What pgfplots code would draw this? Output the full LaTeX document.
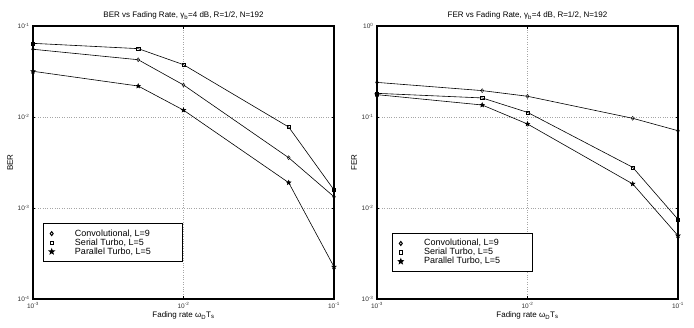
\documentclass[border=0pt]{standalone}
\usepackage{fontspec}
\setmainfont{Liberation Sans}
\usepackage{pgfplots}
\pgfplotsset{compat=1.18}
\pgfdeclareplotmark{fstar}{%
  \pgfpathmoveto{\pgfpointpolar{90}{\pgfplotmarksize}}%
  \pgfpathlineto{\pgfpointpolar{126}{0.42\pgfplotmarksize}}%
  \pgfpathlineto{\pgfpointpolar{162}{\pgfplotmarksize}}%
  \pgfpathlineto{\pgfpointpolar{198}{0.42\pgfplotmarksize}}%
  \pgfpathlineto{\pgfpointpolar{234}{\pgfplotmarksize}}%
  \pgfpathlineto{\pgfpointpolar{270}{0.42\pgfplotmarksize}}%
  \pgfpathlineto{\pgfpointpolar{306}{\pgfplotmarksize}}%
  \pgfpathlineto{\pgfpointpolar{342}{0.42\pgfplotmarksize}}%
  \pgfpathlineto{\pgfpointpolar{18}{\pgfplotmarksize}}%
  \pgfpathlineto{\pgfpointpolar{54}{0.42\pgfplotmarksize}}%
  \pgfpathclose
  \pgfusepathqfillstroke
}
\pgfplotsset{
  every axis/.append style={
    axis line style={line width=1.1pt},
    tick style={black, line width=0.6pt},
    major tick length=2.5pt,
    major grid style={dotted, gray!70, line width=0.5pt},
    tick label style={font=\fontsize{6.5}{7}\selectfont, text=black!80},
    xticklabel={10\textsuperscript{\pgfmathparse{int(round(\tick/2.302585))}\pgfmathresult}},
    yticklabel={10\textsuperscript{\pgfmathparse{int(round(\tick/2.302585))}\pgfmathresult}},
    every axis label/.append style={font=\fontsize{8}{9}\selectfont},
    title style={font=\fontsize{8}{9}\selectfont, yshift=-3pt},
    xlabel style={yshift=3pt},
    ylabel style={yshift=-2pt},
    legend style={draw=black, line width=1pt, font=\fontsize{9}{9}\selectfont, anchor=north west,
       inner xsep=6pt, inner ysep=4pt, row sep=-3pt, column sep=19pt},
    legend cell align=left,
  },
  lin/.style={black, line width=0.6pt, no marks, forget plot},
  mk/.style={black, only marks, mark options={solid, line width=0.5pt}},
}
\begin{document}
\begin{tikzpicture}
\path[use as bounding box] (0pt,0pt) rectangle (694pt,328pt);
\begin{axis}[at={(33pt,29pt)}, anchor=south west,
  scale only axis, width=301pt, height=273pt,
  xmode=log, ymode=log,
  xmin=1e-3, xmax=1e-1,
  ymin=1e-4, ymax=1e-1,
  xminorticks=false, yminorticks=false,
  xmajorgrids, ymajorgrids,
  title={BER vs Fading Rate, γ\textsubscript{b}=4 dB, R=1/2, N=192},
  xlabel={Fading rate ω\textsubscript{D}T\textsubscript{s}},
  ylabel={BER},
  legend style={at={(0.033,0.278)}},
]
\addplot[lin] coordinates {(1e-3,0.0555) (5e-3,0.0426) (1e-2,0.0225) (5e-2,0.00357) (1e-1,0.00133)};
\addplot[lin] coordinates {(1e-3,0.0645) (5e-3,0.0564) (1e-2,0.0376) (5e-2,0.00776) (1e-1,0.00158)};
\addplot[lin] coordinates {(1e-3,0.0318) (5e-3,0.0219) (1e-2,0.0119) (5e-2,0.0019) (1e-1,0.000226)};
\addplot[mk, mark=diamond, mark size=2pt, mark options={fill=white}]
  coordinates {(1e-3,0.0555) (5e-3,0.0426) (1e-2,0.0225) (5e-2,0.00357) (1e-1,0.00133)};
\addplot[mk, mark=square, mark size=1.6pt, mark options={fill=white}]
  coordinates {(1e-3,0.0645) (5e-3,0.0564) (1e-2,0.0376) (5e-2,0.00776) (1e-1,0.00158)};
\addplot[mk, mark=fstar, mark size=2.4pt, mark options={fill=black}]
  coordinates {(1e-3,0.0318) (5e-3,0.0219) (1e-2,0.0119) (5e-2,0.0019) (1e-1,0.000226)};
\legend{{Convolutional, L=9}, {Serial Turbo, L=5}, {Parallel Turbo, L=5\hspace*{24pt}}}
\end{axis}
\begin{axis}[at={(377pt,29pt)}, anchor=south west,
  scale only axis, width=301pt, height=273pt,
  xmode=log, ymode=log,
  xmin=1e-3, xmax=1e-1,
  ymin=1e-3, ymax=1,
  xminorticks=false, yminorticks=false,
  xmajorgrids, ymajorgrids,
  title={FER vs Fading Rate, γ\textsubscript{b}=4 dB, R=1/2, N=192},
  xlabel={Fading rate ω\textsubscript{D}T\textsubscript{s}},
  ylabel={FER},
  legend style={at={(0.05,0.242)}},
]
\addplot[lin] coordinates {(1e-3,0.240) (5e-3,0.195) (1e-2,0.169) (5e-2,0.0968) (1e-1,0.0707)};
\addplot[lin] coordinates {(1e-3,0.182) (5e-3,0.162) (1e-2,0.1125) (5e-2,0.028) (1e-1,0.0075)};
\addplot[lin] coordinates {(1e-3,0.176) (5e-3,0.1355) (1e-2,0.0838) (5e-2,0.0184) (1e-1,0.00497)};
\addplot[mk, mark=diamond, mark size=2pt, mark options={fill=white}]
  coordinates {(1e-3,0.240) (5e-3,0.195) (1e-2,0.169) (5e-2,0.0968) (1e-1,0.0707)};
\addplot[mk, mark=square, mark size=1.6pt, mark options={fill=white}]
  coordinates {(1e-3,0.182) (5e-3,0.162) (1e-2,0.1125) (5e-2,0.028) (1e-1,0.0075)};
\addplot[mk, mark=fstar, mark size=2.4pt, mark options={fill=black}]
  coordinates {(1e-3,0.176) (5e-3,0.1355) (1e-2,0.0838) (5e-2,0.0184) (1e-1,0.00497)};
\legend{{Convolutional, L=9}, {Serial Turbo, L=5}, {Parallel Turbo, L=5\hspace*{24pt}}}
\end{axis}
\end{tikzpicture}
\end{document}
